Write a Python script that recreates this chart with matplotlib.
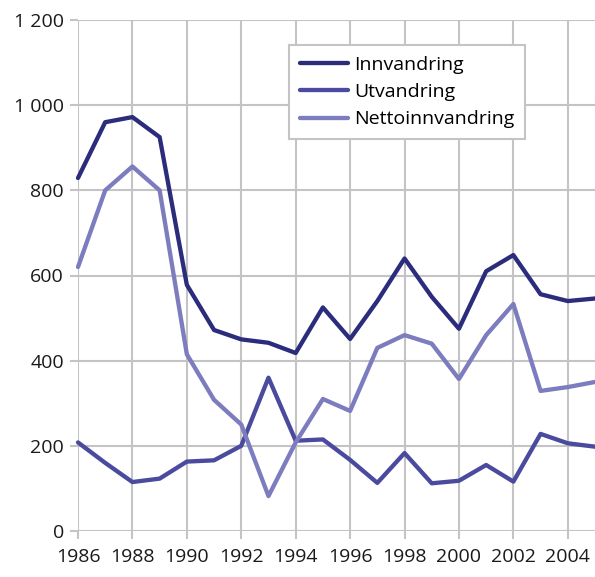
import matplotlib
matplotlib.use("Agg")
import matplotlib.pyplot as plt
from matplotlib.ticker import FuncFormatter

plt.rcParams['font.family'] = ['Open Sans', 'DejaVu Sans']

years = list(range(1986, 2006))
innvandring = [829, 960, 972, 925, 578, 472, 450, 442, 418, 525,
               451, 540, 640, 550, 475, 610, 648, 556, 540, 546]
utvandring = [208, 160, 115, 123, 163, 166, 200, 360, 212, 215,
              167, 113, 183, 112, 118, 155, 116, 228, 206, 198]
netto = [620, 800, 856, 800, 415, 308, 250, 82, 208, 310,
         282, 430, 460, 440, 357, 460, 533, 329, 338, 350]

names = ["Innvandring", "Utvandring", "Nettoinnvandring"]
colors = ["#2b2c7c", "#4a4a9e", "#7c7cbe"]

fig = plt.figure(figsize=(5.95, 5.77), dpi=100)
ax = fig.add_axes([78/595, 1-531/577, 517/595, 511/577])

for vals, name, c in zip([innvandring, utvandring, netto], names, colors):
    ax.plot(years, vals, color=c, lw=3.1, label=name, solid_capstyle="round", clip_on=False, zorder=3)

ax.set_xlim(1986, 2005)
ax.set_ylim(0, 1200)
ax.set_xticks(range(1986, 2005, 2))
ax.set_yticks(range(0, 1201, 200))
ax.yaxis.set_major_formatter(FuncFormatter(lambda v, p: f"{int(v):,}".replace(",", " ")))
ax.grid(True, color="#c4c4c4", lw=1.5)
for s in ax.spines.values():
    s.set_visible(False)
ax.tick_params(axis="both", color="#c4c4c4", width=1.5, length=6, labelsize=14, labelcolor="#1a1a1a")
ax.tick_params(axis="x", pad=6)
ax.tick_params(axis="y", pad=4)

leg = ax.legend(loc="upper left", bbox_to_anchor=(0.408, 0.951), borderaxespad=0, fontsize=14,
                frameon=True, fancybox=False, edgecolor="#c4c4c4", framealpha=1,
                handlelength=2.5, handletextpad=0.3, labelspacing=0.48, borderpad=0.55)
leg.get_frame().set_linewidth(1.5)

fig.savefig("out.png", dpi=100)
